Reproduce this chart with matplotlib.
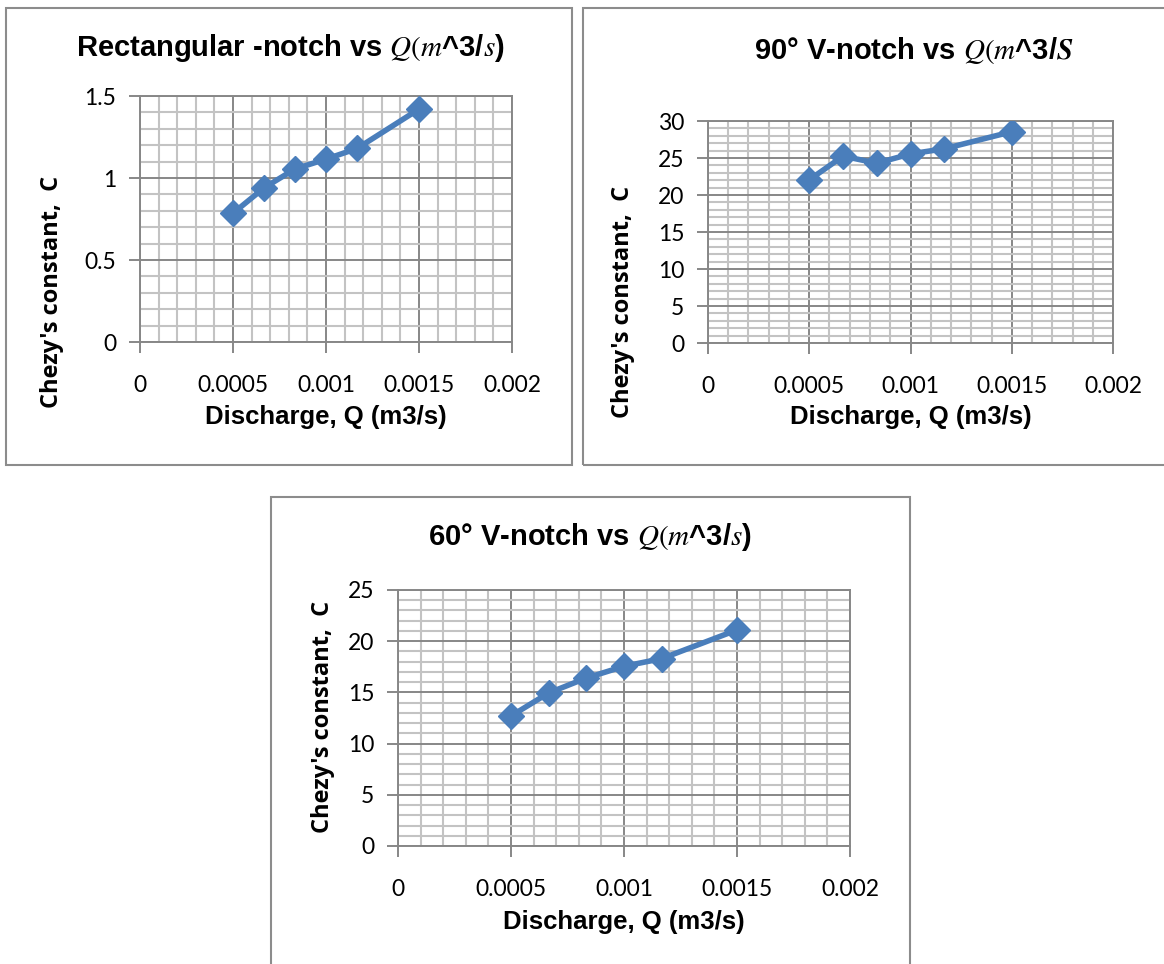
import matplotlib.pyplot as plt
from matplotlib.patches import Rectangle
from matplotlib.ticker import MultipleLocator

# Discharge values (m3/s), same for all three notches
discharge = [0.0005, 0.000667, 0.000833, 0.001, 0.001167, 0.0015]

# Chezy's constant for each notch
c_rect = [0.785, 0.94, 1.055, 1.115, 1.18, 1.42]
c_v90 = [22.05, 25.25, 24.3, 25.55, 26.25, 28.55]
c_v60 = [12.7, 14.95, 16.4, 17.55, 18.3, 21.1]

x_ticks = [0, 0.0005, 0.001, 0.0015, 0.002]
x_tick_labels = ["0", "0.0005", "0.001", "0.0015", "0.002"]

W, H = 1164, 964
fig = plt.figure(figsize=(W / 100, H / 100), dpi=100)

blue = "#4a7ebb"
major_grey = "#878787"
minor_grey = "#c3c3c3"
label_font = "Liberation Sans"
tick_font = "Lato"


def px(x, y):
    return x / W, 1 - y / H


def add_box(x0, y0, x1, y1):
    fig.patches.append(Rectangle(px(x0, y1), (x1 - x0) / W, (y1 - y0) / H,
                                 transform=fig.transFigure, fill=False,
                                 edgecolor="#8c8c8c", linewidth=1.5))


def chart(rect, y, ymax, ystep, yminor, title, title_xy, xlabel_xy, ylabel_xy):
    left, top, right, bottom = rect
    ax = fig.add_axes([left / W, 1 - bottom / H, (right - left) / W, (bottom - top) / H])
    ax.plot(discharge, y, color=blue, lw=4, marker="D", markersize=13, zorder=3)
    ax.set_xlim(0, 0.002)
    ax.set_ylim(0, ymax)
    ax.set_xticks(x_ticks)
    ax.set_xticklabels(x_tick_labels)
    ax.yaxis.set_major_locator(MultipleLocator(ystep))
    ax.xaxis.set_minor_locator(MultipleLocator(0.0001))
    ax.yaxis.set_minor_locator(MultipleLocator(yminor))
    ax.yaxis.set_major_formatter(plt.FuncFormatter(lambda v, p: f"{v:g}"))
    ax.grid(which="minor", color=minor_grey, lw=1.5, zorder=0)
    ax.grid(which="major", color=major_grey, lw=1.4, zorder=1)
    ax.set_axisbelow(True)
    for s in ax.spines.values():
        s.set_color(major_grey)
        s.set_linewidth(1.4)
    ax.tick_params(which="major", direction="out", length=8, width=1.4,
                   color=major_grey, labelsize=16.5, pad=9)
    ax.tick_params(which="minor", length=0)
    for lab in ax.get_xticklabels() + ax.get_yticklabels():
        lab.set_fontfamily(tick_font)
    ax.tick_params(axis="x", pad=16)

    fig.text(*px(*title_xy), title, ha="center", va="center", fontsize=21,
             fontweight="bold", family=label_font)
    fig.text(*px(*xlabel_xy), "Discharge, Q (m3/s)", ha="center", va="center",
             fontsize=18.5, fontweight="bold", family=label_font)
    fig.text(*px(*ylabel_xy), "Chezy's constant,  C", ha="center", va="center",
             rotation=90, fontsize=17, fontweight="bold", family="Open Sans")
    return ax


plt.rcParams["mathtext.fontset"] = "stix"

add_box(6, 8, 572, 465)
add_box(583, 8, 1200, 465)
add_box(271, 497, 910, 1000)

chart((140, 96, 512, 342), c_rect, 1.5, 0.5, 0.1,
      r"Rectangular -notch vs $Q(m$^3/$s$)", (290, 48), (326, 417), (52, 292))
chart((708, 121, 1113, 343), c_v90, 30, 5, 1,
      r"90° V-notch vs $Q(m$^3/$\mathbfit{S}$", (914, 50), (911, 417), (623, 302))
chart((398, 590, 850, 846), c_v60, 25, 5, 1,
      r"60° V-notch vs $Q(m$^3/$s$)", (590, 537), (624, 922), (323, 717))

fig.savefig("out.png", dpi=100)
